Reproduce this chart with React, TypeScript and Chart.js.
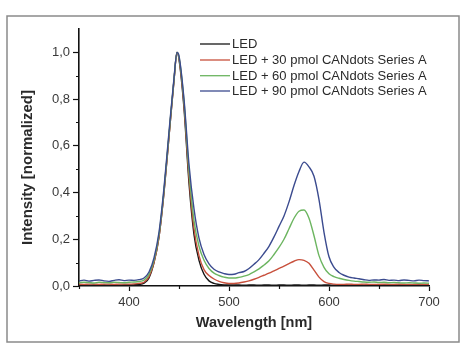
import { useEffect, useRef } from 'react';
import { Chart, registerables } from 'chart.js';

Chart.register(...registerables);

const wavelengths = [
  350, 355, 360, 365, 370, 375, 380, 385, 390, 395, 400, 405, 410, 415, 420, 425, 430, 435, 440, 445, 448,
  450, 455, 460, 465, 470, 475, 480, 485, 490, 495, 500, 505, 510, 515, 520, 525, 530, 535, 540, 545, 550,
  555, 560, 565, 570, 575, 580, 585, 590, 595, 600, 605, 610, 615, 620, 625, 630, 635, 640, 645, 650, 655,
  660, 665, 670, 675, 680, 685, 690, 695, 700,
];

const ledOnly = [
  0.004, 0.004, 0.003, 0.004, 0.003, 0.004, 0.003, 0.004, 0.003, 0.004, 0.004, 0.005, 0.007, 0.012, 0.035,
  0.10, 0.21, 0.40, 0.64, 0.88, 1.0,
  0.97, 0.76, 0.44, 0.22, 0.11, 0.05, 0.022, 0.011, 0.007, 0.005, 0.004, 0.004, 0.004, 0.003, 0.004, 0.004,
  0.003, 0.004, 0.004, 0.003, 0.004, 0.004, 0.003, 0.004, 0.004, 0.003, 0.004, 0.004, 0.003, 0.004, 0.004,
  0.003, 0.004, 0.004, 0.003, 0.004, 0.004, 0.003, 0.004, 0.004, 0.003, 0.004, 0.004, 0.003, 0.004, 0.004,
  0.003, 0.004, 0.004, 0.003, 0.004,
];

const led30 = [
  0.008, 0.007, 0.008, 0.008, 0.007, 0.008, 0.008, 0.007, 0.008, 0.008, 0.008, 0.009, 0.011, 0.016, 0.04,
  0.10, 0.21, 0.40, 0.64, 0.88, 1.0,
  0.975, 0.775, 0.465, 0.245, 0.13, 0.07, 0.045, 0.03, 0.02, 0.014, 0.011, 0.011, 0.013, 0.017, 0.022,
  0.029, 0.037, 0.046, 0.055, 0.065, 0.075, 0.085, 0.096, 0.106, 0.113, 0.11, 0.097, 0.068, 0.038, 0.019,
  0.011, 0.008, 0.007, 0.007, 0.008, 0.007, 0.007, 0.008, 0.007, 0.007, 0.007, 0.008, 0.007, 0.007, 0.008,
  0.007, 0.007, 0.007, 0.008, 0.007, 0.007,
];

const led60 = [
  0.014, 0.016, 0.015, 0.013, 0.016, 0.015, 0.014, 0.016, 0.015, 0.014, 0.016, 0.017, 0.019, 0.025, 0.05,
  0.11, 0.22, 0.41, 0.65, 0.885, 1.0,
  0.98, 0.79, 0.49, 0.28, 0.17, 0.11, 0.075, 0.055, 0.045, 0.038, 0.034, 0.034, 0.037, 0.042, 0.049,
  0.06, 0.073, 0.09, 0.108, 0.135, 0.165, 0.2, 0.245, 0.29, 0.32, 0.325, 0.29, 0.215, 0.13, 0.08,
  0.052, 0.04, 0.033, 0.028, 0.024, 0.021, 0.019, 0.017, 0.016, 0.017, 0.015, 0.016, 0.014, 0.015, 0.014,
  0.013, 0.014, 0.013, 0.012, 0.013, 0.012,
];

const led90 = [
  0.022, 0.025, 0.021, 0.024, 0.026, 0.022, 0.02, 0.024, 0.027, 0.023, 0.025, 0.024, 0.027, 0.034, 0.06,
  0.12, 0.23, 0.42, 0.66, 0.89, 1.0,
  0.985, 0.8, 0.52, 0.33, 0.205, 0.135, 0.095, 0.072, 0.06, 0.053, 0.049, 0.05, 0.057, 0.062, 0.075,
  0.093, 0.113, 0.14, 0.17, 0.21, 0.255, 0.3, 0.36, 0.43, 0.49, 0.53, 0.51, 0.47, 0.37, 0.23,
  0.125, 0.08, 0.058, 0.046, 0.038, 0.034, 0.031, 0.027, 0.024, 0.026, 0.025, 0.028, 0.024, 0.025, 0.023,
  0.026, 0.024, 0.022, 0.025, 0.023, 0.022,
];

const seriesLabels = [
  'LED',
  'LED + 30 pmol CANdots Series A',
  'LED + 60 pmol CANdots Series A',
  'LED + 90 pmol CANdots Series A',
];
const seriesValues = [ledOnly, led30, led60, led90];
const seriesColors = ['#161616', '#c8503c', '#6cb560', '#3b4b8f'];

const xTitle = 'Wavelength [nm]';
const yTitle = 'Intensity [normalized]';
const xMinorTicks = [350, 450, 550, 650];
const yMinorTicks = [0.1, 0.3, 0.5, 0.7, 0.9];

const FONT = '"Liberation Sans", Arial, Helvetica, sans-serif';

export default function App() {
  const ref = useRef<HTMLCanvasElement | null>(null);

  useEffect(() => {
    document.body.style.margin = '0';
    const canvas = ref.current;
    if (!canvas) return;

    const decor = {
      id: 'decor',
      beforeDraw(chart: any) {
        const ctx = chart.ctx;
        ctx.save();
        ctx.fillStyle = '#ffffff';
        ctx.fillRect(0, 0, chart.width, chart.height);
        ctx.strokeStyle = '#8a8a8a';
        ctx.lineWidth = 1.5;
        ctx.strokeRect(7, 16, 452, 326);
        ctx.restore();
      },
      afterDraw(chart: any) {
        const ctx = chart.ctx;
        const xs = chart.scales.x;
        const ys = chart.scales.y;
        ctx.save();
        // minor ticks
        ctx.strokeStyle = '#111';
        ctx.lineWidth = 1.2;
        ctx.beginPath();
        xMinorTicks.forEach((v) => {
          const px = Math.round(xs.getPixelForValue(v)) + 0.5;
          ctx.moveTo(px, ys.bottom);
          ctx.lineTo(px, ys.bottom + 3);
        });
        yMinorTicks.forEach((v) => {
          const py = Math.round(ys.getPixelForValue(v)) + 0.5;
          ctx.moveTo(xs.left, py);
          ctx.lineTo(xs.left - 3, py);
        });
        ctx.stroke();

        // y title
        ctx.fillStyle = '#2a2a2a';
        ctx.font = `bold 15px ${FONT}`;
        ctx.textAlign = 'center';
        ctx.textBaseline = 'middle';
        ctx.translate(27.5, 167.5);
        ctx.rotate(-Math.PI / 2);
        ctx.fillText(yTitle, 0, 0);
        ctx.setTransform(1, 0, 0, 1, 0, 0);

        // legend
        const rows = [44, 60, 75.7, 91];
        ctx.font = `13px ${FONT}`;
        ctx.textAlign = 'left';
        ctx.textBaseline = 'middle';
        seriesLabels.forEach((label, i) => {
          ctx.strokeStyle = seriesColors[i];
          ctx.lineWidth = 1.3;
          ctx.beginPath();
          ctx.moveTo(200, rows[i]);
          ctx.lineTo(230, rows[i]);
          ctx.stroke();
          ctx.fillStyle = '#2a2a2a';
          ctx.fillText(label, 232, rows[i] + 0.5);
        });
        ctx.restore();
      },
    };

    const chart = new Chart(canvas, {
      type: 'line',
      data: {
        datasets: seriesValues.map((vals, i) => ({
          label: seriesLabels[i],
          data: wavelengths.map((w, j) => ({ x: w, y: vals[j] })),
          borderColor: seriesColors[i],
          backgroundColor: seriesColors[i],
          borderWidth: 1.4,
          pointRadius: 0,
          fill: false,
          cubicInterpolationMode: 'monotone' as const,
          order: 4 - i,
        })),
      },
      options: {
        responsive: false,
        animation: false,
        layout: { padding: { left: 0, right: 40, top: 29, bottom: 0 } },
        plugins: {
          legend: { display: false },
          tooltip: { enabled: false },
        },
        scales: {
          x: {
            type: 'linear',
            min: 350,
            max: 700,
            afterFit: (s: any) => {
              s.height = 68;
            },
            ticks: {
              stepSize: 100,
              includeBounds: false,
              color: '#3a3a3a',
              font: { family: FONT, size: 13 },
              padding: 4,
              maxRotation: 0,
            },
            grid: {
              display: true,
              drawOnChartArea: false,
              drawTicks: true,
              tickLength: 5,
              tickColor: '#111',
              tickWidth: 1.2,
            },
            border: { display: true, color: '#111', width: 1.6 },
            title: {
              display: true,
              text: xTitle,
              color: '#2a2a2a',
              font: { family: FONT, size: 14.5, weight: 'bold' },
              padding: { top: 0, bottom: 22 },
            },
          },
          y: {
            type: 'linear',
            min: 0,
            max: 1.1,
            afterFit: (s: any) => {
              s.width = 79;
            },
            ticks: {
              stepSize: 0.2,
              includeBounds: false,
              color: '#3a3a3a',
              font: { family: FONT, size: 13 },
              padding: 3,
              callback: (v: any) => Number(v).toFixed(1).replace('.', ','),
            },
            grid: {
              display: true,
              drawOnChartArea: false,
              drawTicks: true,
              tickLength: 6,
              tickColor: '#111',
              tickWidth: 1.2,
            },
            border: { display: true, color: '#111', width: 1.6 },
          },
        },
      },
      plugins: [decor],
    });

    return () => chart.destroy();
  }, []);

  return (
    <div style={{ width: 469, height: 354 }}>
      <canvas ref={ref} width={469} height={354} style={{ display: 'block' }} />
    </div>
  );
}
